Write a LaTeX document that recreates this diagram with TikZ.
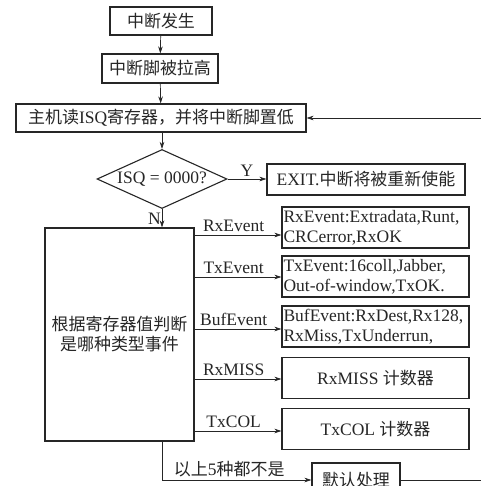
\documentclass[tikz,border=0pt]{standalone}
\usepackage{fontspec}
\setmainfont{Liberation Serif}
\newfontfamily\cjk[Scale=0.97]{Noto Sans CJK SC}
\usetikzlibrary{arrows.meta,shapes.geometric}
\begin{document}
\begin{tikzpicture}[x=1pt,y=-1pt,
  every node/.style={font=\fontsize{17.5}{20}\selectfont, text=black!85},
  box/.style={draw=black!85, line width=1.1pt, inner sep=0pt, align=center},
  rbox/.style={box, minimum width=187pt, minimum height=41pt, text width=184pt, align=left},
  cbox/.style={box, minimum width=187pt, minimum height=41pt},
  arr/.style={draw=black!85, line width=0.7pt, -{Stealth[length=7pt,width=4.5pt]}},
  lbl/.style={inner sep=1pt}
]
\useasboundingbox (0,0) rectangle (480,486);
\fill[white] (0,0) rectangle (480,486);

\node[box, minimum width=102pt, minimum height=28pt] (n1) at (161,21) {\cjk 中断发生};
\node[box, minimum width=116pt, minimum height=29pt] (n2) at (160,68.5) {\cjk 中断脚被拉高};
\node[box, minimum width=290pt, minimum height=28pt] (n3) at (161,118) {{\cjk 主机读}ISQ{\cjk 寄存器，并将中断脚置低}};
\node[diamond, draw=black!85, line width=1.1pt, minimum width=130pt, minimum height=59pt, inner sep=0pt] (d) at (162,179) {};
\node[lbl] (dt) at (d.center) {ISQ = 0000?};
\node[box, minimum width=198pt, minimum height=31pt] (ex) at (366,179.5) {EXIT.{\cjk 中断将被重新使能}};
\node[box, minimum width=149pt, minimum height=213pt] (big) at (119.5,334.5) {{\cjk 根据寄存器值判断}\\{\cjk 是哪种类型事件}};

\node[rbox] (r1) at (375.5,227.5) {RxEvent:Extradata,Runt,\\CRCerror,RxOK};
\node[rbox] (r2) at (375.5,276.5) {TxEvent:16coll,Jabber,\\Out-of-window,TxOK.};
\node[rbox] (r3) at (375.5,326.5) {BufEvent:RxDest,Rx128,\\RxMiss,TxUnderrun,};
\node[cbox] (r4) at (375.5,378) {RxMISS {\cjk 计数器}};
\node[cbox] (r5) at (375.5,429) {TxCOL {\cjk 计数器}};
\node[box, minimum width=88pt, minimum height=34pt] (df) at (356,480) {\cjk 默认处理};

\coordinate (y1) at (0,235);
\coordinate (y2) at (0,277);
\coordinate (y3) at (0,329);
\coordinate (y4) at (0,379);
\coordinate (y5) at (0,431);
\coordinate (ret) at (492,0);

\draw[arr] (n1) -- (n2);
\draw[arr] (n2) -- (n3);
\draw[arr] (n3.south -| d.north) -- (d.north);
\draw[arr] (d.east) -- node[lbl, above=1pt] {Y} (ex.west |- d.east);
\draw[arr] (d.south) -- node[lbl, left=0pt, pos=0.55] {N} (d.south |- big.north);

\draw[arr] (y1 -| big.east) -- node[lbl, above=2pt, pos=0.45] {RxEvent} (y1 -| r1.west);
\draw[arr] (y2 -| big.east) -- node[lbl, above=2pt, pos=0.45] {TxEvent} (y2 -| r2.west);
\draw[arr] (y3 -| big.east) -- node[lbl, above=2pt, pos=0.45] {BufEvent} (y3 -| r3.west);
\draw[arr] (y4 -| big.east) -- node[lbl, above=2pt, pos=0.45] {RxMISS} (y4 -| r4.west);
\draw[arr] (y5 -| big.east) -- node[lbl, above=2pt, pos=0.45] {TxCOL} (y5 -| r5.west);

\draw[arr] (d.south |- big.south) -- (d.south |- df.west) -- node[lbl, above=2pt, pos=0.45] {{\cjk 以上}5{\cjk 种都不是}} (df.west);
\draw[arr] (df.east) -- (df.east -| ret) -- (ret |- n3.east) -- (n3.east);
\end{tikzpicture}
\end{document}
